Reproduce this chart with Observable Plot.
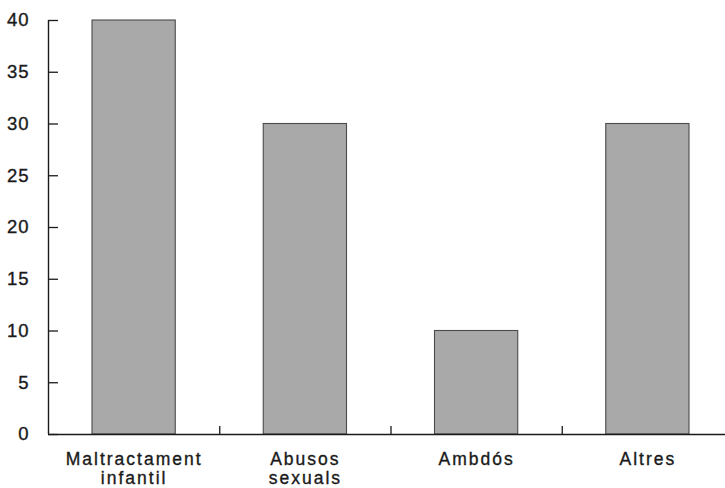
<!DOCTYPE html>
<html>
<head>
<meta charset="utf-8">
<script src="https://cdn.jsdelivr.net/npm/d3@7"></script>
<script src="https://cdn.jsdelivr.net/npm/@observablehq/plot@0.6"></script>
<style>
  html, body { margin: 0; padding: 0; background: #fff; overflow: hidden; }
  #chart svg { display: block; }
  #chart g[aria-label="x-axis tick label"] text { letter-spacing: 2px; stroke: #1a1a1a; stroke-width: 0.35px; }
  #chart g[aria-label="y-axis tick label"] text { letter-spacing: 1px; stroke: #1a1a1a; stroke-width: 0.35px; }
</style>
</head>
<body>
<div id="chart"></div>
<script>
const categories = ["Maltractament\ninfantil", "Abusos\nsexuals", "Ambdós", "Altres"];
const values = [40, 30, 10, 30];
const yTicks = [0, 5, 10, 15, 20, 25, 30, 35, 40];

const table = categories.map((c, i) => ({i, category: c, value: values[i]}));
const boundaries = categories.slice(1).map((_, i) => i + 1);
const centers = categories.map((_, i) => i + 0.5);

const font = "'Liberation Sans', Arial, Helvetica, sans-serif";

const plot = Plot.plot({
  width: 725,
  height: 488,
  marginLeft: 48,
  marginRight: 0,
  marginTop: 20,
  marginBottom: 54,
  style: {fontFamily: font, color: "#1a1a1a", background: "#fff"},
  x: {type: "linear", domain: [0, categories.length], range: [48, 733], axis: null, label: null},
  y: {domain: [0, 40], axis: null, label: null},
  marks: [
    Plot.rectY(table, {
      x1: "i", x2: d => d.i + 1, y1: 0, y2: "value",
      insetLeft: 44, insetRight: 44,
      fill: "#a9a9a9", stroke: "#4a4a4a", strokeWidth: 1.1
    }),
    Plot.axisY({ticks: yTicks, tickSize: -10, label: null, tickFormat: () => "", stroke: "#1a1a1a", strokeWidth: 1.3}),
    Plot.axisY({ticks: yTicks, tickSize: 0, tickPadding: 19, label: null, fontSize: 18.5, fill: "#1a1a1a", tickFormat: d => String(d)}),
    Plot.axisX({ticks: boundaries, tickSize: -8, label: null, tickFormat: () => "", stroke: "#1a1a1a", strokeWidth: 1.3}),
    Plot.axisX({ticks: centers, tickSize: 0, tickPadding: 17, label: null, fontSize: 17.5, lineHeight: 1.08, fill: "#1a1a1a",
      tickFormat: d => categories[Math.floor(d)]}),
    Plot.ruleX([0], {stroke: "#1a1a1a", strokeWidth: 1.4}),
    Plot.ruleY([0], {stroke: "#1a1a1a", strokeWidth: 1.4})
  ]
});
document.getElementById("chart").appendChild(plot);
</script>
</body>
</html>
